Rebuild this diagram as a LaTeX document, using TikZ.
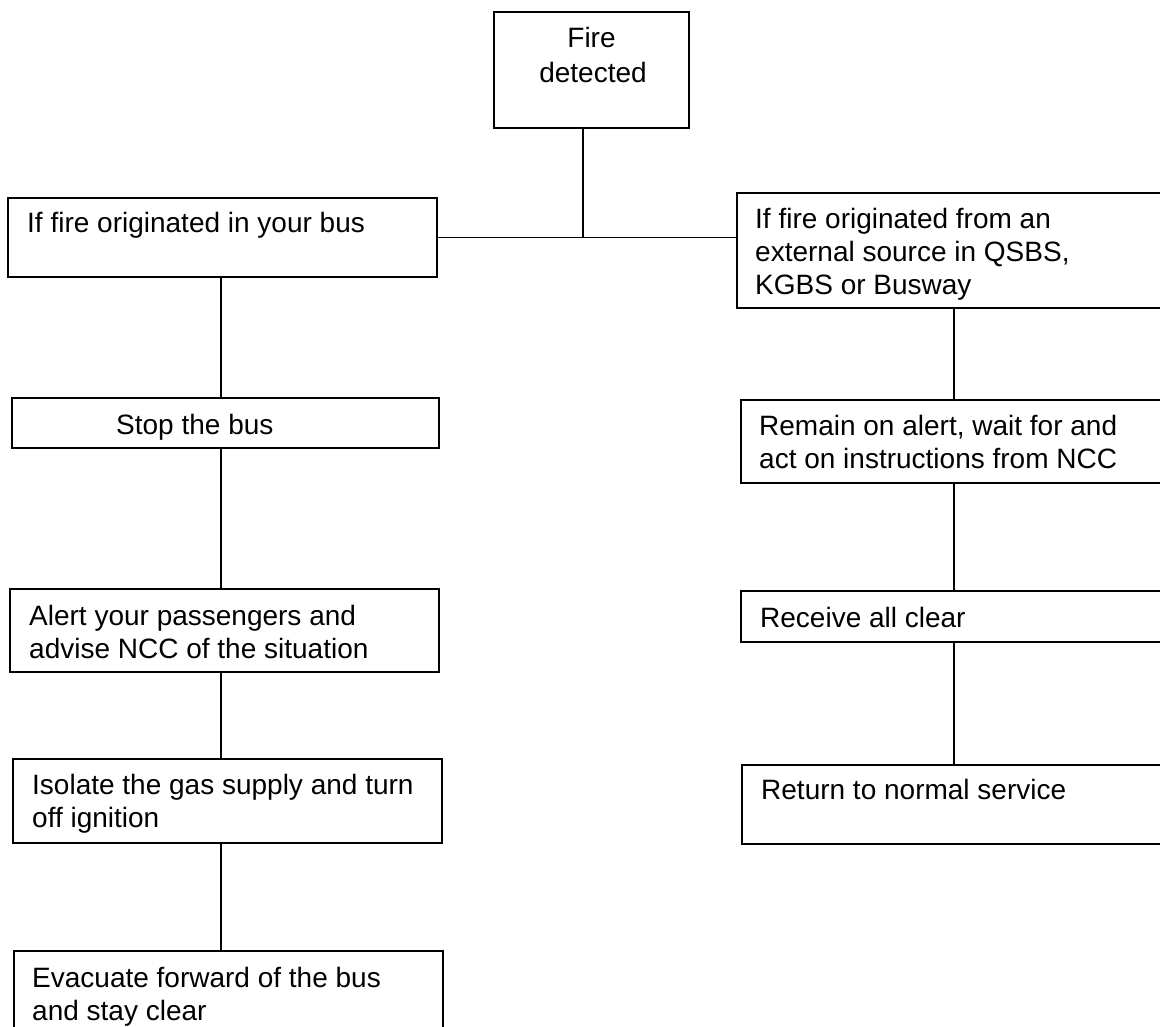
\documentclass[tikz,border=0pt]{standalone}
\usepackage{fontspec}
\setmainfont{Liberation Sans}
\begin{document}
\begin{tikzpicture}[x=1pt,y=-1pt,
  boxline/.style={draw=black,line width=1.2pt,inner sep=0pt},
  conn/.style={draw=black,line width=1.2pt},
  txt/.style={inner sep=0pt,anchor=base west,align=left,font=\fontsize{28}{33.3}\selectfont},
  ctxt/.style={inner sep=0pt,anchor=base,align=center,font=\fontsize{28}{35}\selectfont}]
\path[use as bounding box,clip] (0,0) rectangle (1160,1027);
% boxes
\node[boxline,minimum width=195pt,minimum height=116pt] (fire) at (591.5,70) {};
\node[boxline,minimum width=429pt,minimum height=79pt] (left1) at (222.5,237.5) {};
\node[boxline,minimum width=433pt,minimum height=115pt] (right1) at (953.5,250.5) {};
\node[boxline,minimum width=427pt,minimum height=50pt] (stop) at (225.5,423) {};
\node[boxline,minimum width=429pt,minimum height=83pt] (remain) at (955.5,441.5) {};
\node[boxline,minimum width=429pt,minimum height=83pt] (alert) at (224.5,630.5) {};
\node[boxline,minimum width=429pt,minimum height=51pt] (receive) at (955.5,616.5) {};
\node[boxline,minimum width=429pt,minimum height=84pt] (isolate) at (227.5,801) {};
\node[boxline,minimum width=428pt,minimum height=79pt] (return) at (956,804.5) {};
\node[boxline,minimum width=429pt,minimum height=89pt] (evac) at (228.5,995.5) {};
% texts (multi-line nodes: base = last line's baseline)
\node[ctxt] (tfire1) at (591.5,48) {Fire};
\node[ctxt] (tfire2) at (593,83) {detected};
\node[txt] (tleft1) at (27,233) {If fire originated in your bus};
\node[txt] (tright1) at (755,294.9) {If fire originated from an\\external source in QSBS,\\KGBS or Busway};
\node[txt] (tstop) at (116,434) {Stop the bus};
\node[txt] (tremain) at (759,468.3) {Remain on alert, wait for and\\act on instructions from NCC};
\node[txt] (talert) at (29,658.3) {Alert your passengers and\\advise NCC of the situation};
\node[txt] (treceive) at (760,627) {Receive all clear};
\node[txt] (tisolate) at (32,827.3) {Isolate the gas supply and turn\\off ignition};
\node[txt] (treturn) at (761,799) {Return to normal service};
\node[txt] (tevac) at (32,1020.3) {Evacuate forward of the bus\\and stay clear};
% connectors
\coordinate (junc) at (583,237);
\coordinate (xl) at (221,0);
\coordinate (xr) at (954,0);
\draw[conn] (junc |- fire.south) -- (junc);
\draw[conn] (left1.east) -- (left1.east -| right1.west);
\draw[conn] (xl |- left1.south) -- (xl |- stop.north);
\draw[conn] (xl |- stop.south) -- (xl |- alert.north);
\draw[conn] (xl |- alert.south) -- (xl |- isolate.north);
\draw[conn] (xl |- isolate.south) -- (xl |- evac.north);
\draw[conn] (xr |- right1.south) -- (xr |- remain.north);
\draw[conn] (xr |- remain.south) -- (xr |- receive.north);
\draw[conn] (xr |- receive.south) -- (xr |- return.north);
\end{tikzpicture}
\end{document}
